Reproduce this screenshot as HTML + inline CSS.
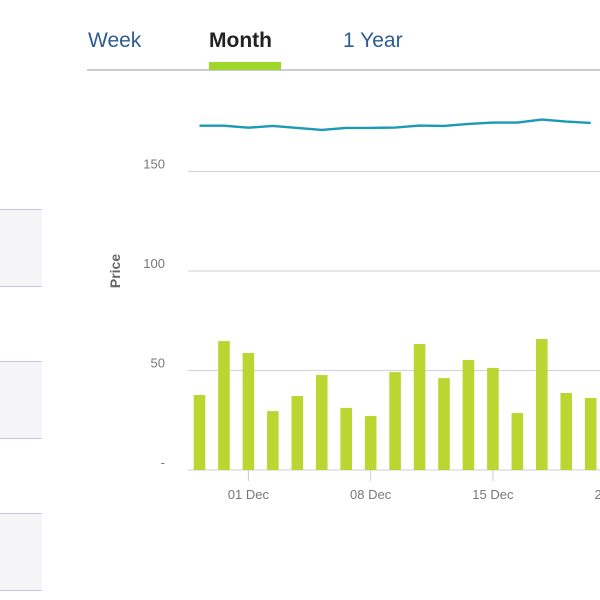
<!DOCTYPE html>
<html><head><meta charset="utf-8">
<style>
html,body{margin:0;padding:0;background:#fff;width:600px;height:600px;overflow:hidden;font-family:"Liberation Sans",sans-serif;}
.tab{position:absolute;top:29px;font-size:21px;color:#2f5d8f;}
.panel{position:absolute;left:0;width:42px;height:76px;background:#f5f5f7;border-top:1.5px solid #c3c6dc;border-bottom:1.5px solid #c3c6dc;}
</style></head><body>
<div class="tab" style="left:88px">Week</div>
<div class="tab" style="left:209px;color:#222;font-weight:bold">Month</div>
<div class="tab" style="left:343px">1 Year</div>
<div style="position:absolute;left:87px;top:69px;width:513px;height:2px;background:#c9cad2"></div>
<div style="position:absolute;left:209px;top:62px;width:72px;height:8px;background:#9fd62a"></div>
<div class="panel" style="top:209px"></div>
<div class="panel" style="top:361px"></div>
<div class="panel" style="top:513px"></div>
<svg id="chart" width="600" height="600" style="position:absolute;left:0;top:0"></svg>
<script>
const categories=['27 Nov','28 Nov','01 Dec','02 Dec','03 Dec','04 Dec','05 Dec','08 Dec','09 Dec','10 Dec','11 Dec','12 Dec','15 Dec','16 Dec','17 Dec','18 Dec','19 Dec','22 Dec'];
const volumes=[37.7,64.8,58.8,29.6,37.2,47.7,31.2,27.1,49.2,63.3,46.2,55.3,51.3,28.6,65.8,38.7,36.2];
const prices=[173.0,173.0,172.0,172.9,171.9,170.9,171.9,171.9,172.1,173.1,172.9,173.9,174.6,174.6,176.1,175.1,174.4];
const yTicks=[0,50,100,150];
const yTickLabels=['-','50','100','150'];
const xTickIdx=[2,7,12,17];
const svg=document.getElementById('chart');
const NS='http://www.w3.org/2000/svg';
const y=v=>470-v*1.99;
const x=i=>199.5+i*24.45;
function mk(t,a){const e=document.createElementNS(NS,t);for(const k in a)e.setAttribute(k,a[k]);svg.appendChild(e);return e;}
yTicks.forEach((t,i)=>{
  const g=mk('line',{x1:188,x2:600,y1:y(t),y2:y(t),stroke:'#d6d7df','stroke-width':1.3});
  
  
  const l=mk('text',{x:165,y:y(t)-3,'text-anchor':'end','font-size':13,fill:'#777','font-family':'Liberation Sans, sans-serif'});
  l.textContent=yTickLabels[i];
  
  
});
const yt=mk('text',{x:0,y:0,transform:'translate(120,271) rotate(-90)','text-anchor':'middle','font-size':14,'font-weight':'bold',fill:'#666','font-family':'Liberation Sans, sans-serif'});
yt.textContent='Price';


volumes.forEach((v,i)=>{
  const b=mk('rect',{x:x(i)-5.8,y:y(v),width:11.6,height:470-y(v),fill:'#bcd631'});
  
  
});
xTickIdx.forEach(i=>{
  const t=mk('line',{x1:x(i),x2:x(i),y1:470,y2:481,stroke:'#ccc','stroke-width':1});
  
  
  const l=mk('text',{x:x(i),y:499,'text-anchor':'middle','font-size':13,fill:'#777','font-family':'Liberation Sans, sans-serif'});
  l.textContent=categories[i];
  
  
});
const p=mk('path',{d:prices.map((v,i)=>(i?'L':'M')+x(i)+','+y(v)).join(''),fill:'none',stroke:'#1b9ab6','stroke-width':2.4,'stroke-linejoin':'round'});


</script>
</body></html>
